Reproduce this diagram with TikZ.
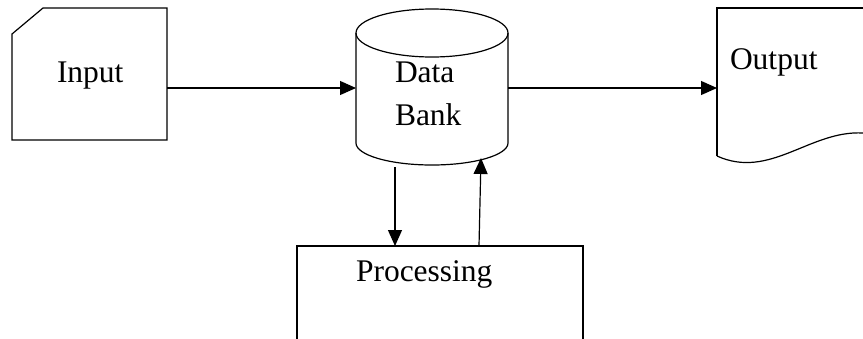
\documentclass[tikz,border=0pt]{standalone}
\usepackage{fontspec}
\setmainfont{Liberation Serif}
\usetikzlibrary{arrows.meta,calc}
\begin{document}
\begin{tikzpicture}[x=1pt,y=-1pt,
  line width=1.2pt,
  every node/.style={inner sep=0pt,outer sep=0pt},
  lbl/.style={anchor=base west,font=\fontsize{31.5}{43}\selectfont},
  arr/.style={-{Triangle[length=16pt,width=14pt]}}]
\useasboundingbox (0,0) rectangle (863,338);
\clip (0,0) rectangle (863,338);

% place holders for the four blocks
\node[minimum width=155pt,minimum height=132pt] (input) at (89.5,74) {};
\node[minimum width=152pt,minimum height=154pt] (bank) at (432,88) {};
\node[minimum width=160pt,minimum height=150pt] (output) at (797,83) {};
\node[minimum width=286pt,minimum height=120pt] (proc) at (440,306) {};

% input card with a cut corner
\draw (input.north west |- 0,34) -- ($(input.north west)+(31,0)$)
  -- (input.north east) -- (input.south east) -- (input.south west) -- cycle;

% data bank cylinder
\draw (bank.center |- 0,33) ellipse [x radius=76, y radius=24];
\draw (356,33) -- (356,143) arc[start angle=180,end angle=0,x radius=76,y radius=22]
  -- (508,33);

% output document with wavy bottom
\draw (output.west |- 0,156) -- (output.west |- 0,8) -- (880,8);
\draw (output.west |- 0,156) .. controls (770,180) and (810,130) .. (863,133) -- (880,133);

% processing box
\draw (proc.south west) rectangle (proc.north east);

% labels
\node[lbl] (tin) at (57,82) {Input};
\node[lbl] (tdata) at (395,82) {Data};
\node[lbl] (tbank) at (395,125) {Bank};
\node[lbl] (tout) at (730,69) {Output};
\node[lbl] (tproc) at (356,281) {Processing};

% connectors
\draw[arr] (input.east |- bank.west) -- (bank.west);
\draw[arr] (bank.east) -- (output.west |- bank.east);
\draw[arr] ($(bank.south)+(-37,2)$) -- ($(proc.north)+(-45,0)$);
\draw[arr] ($(proc.north)+(39,0)$) -- ($(bank.south)+(49,-7)$);
\end{tikzpicture}
\end{document}
